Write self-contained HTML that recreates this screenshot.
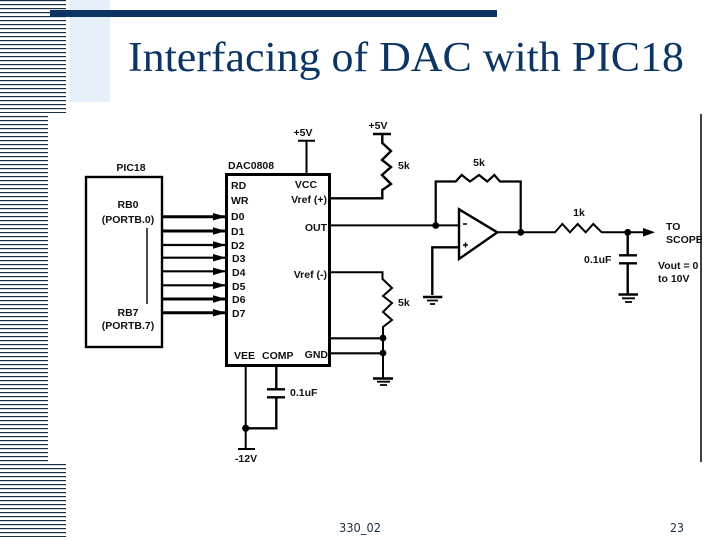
<!DOCTYPE html>
<html><head><meta charset="utf-8"><style>
html,body{margin:0;padding:0;background:#fff}
svg{display:block}
.l{font-family:"Liberation Sans",sans-serif;font-weight:bold;font-size:10.5px;fill:#111}
.m{text-anchor:middle}
.e{text-anchor:end}
</style></head><body>
<svg width="720" height="540" viewBox="0 0 720 540" xmlns="http://www.w3.org/2000/svg">
<defs>
<pattern id="st" width="8" height="4" patternUnits="userSpaceOnUse"><rect width="8" height="1.2" fill="#1c2f3f"/></pattern>
</defs>
<rect width="720" height="540" fill="#fff"/>
<rect x="0" y="0" width="66" height="113" fill="url(#st)"/>
<rect x="0" y="116" width="48" height="348" fill="url(#st)"/>
<rect x="0" y="464" width="66" height="73" fill="url(#st)"/>
<rect x="70" y="0" width="40" height="102" fill="#e6f0fb"/>
<rect x="50" y="10" width="447" height="7" fill="#0d3563"/>
<text x="128" y="71" font-family="'Liberation Serif',serif" font-size="42" fill="#0d3563" textLength="556" lengthAdjust="spacingAndGlyphs">Interfacing of DAC with PIC18</text>

<g fill="none" stroke="#000" stroke-width="2">
<!-- boxes -->
<rect x="86" y="177" width="76" height="170" stroke-width="2.4"/>
<rect x="226.500" y="174.500" width="103" height="191" stroke-width="3"/>
<path d="M147 228V304" stroke-width="1.400"/>
<!-- bus -->
<path d="M162 216.700H226M162 231H226M162 299H226M162 312.700H226" stroke-width="3"/>
<path d="M162 245H226M162 257.700H226M162 271.300H226M162 285.300H226" stroke-width="2.200"/>
<!-- +5V 1 -->
<path d="M298 140.700H315M306.500 141V174"/>
<!-- +5V 2 and resistor -->
<path d="M373 134H391" stroke-width="2.400"/>
<path d="M382.300 134V143L391 151L382 160L391 167L382 175L391 184L382.300 190V198.300H329" stroke-width="2.400"/>
<!-- OUT -->
<path d="M329 225.400H458"/>
<path d="M435.700 225.500V181.500H455.700L461.700 175L470 181.500L479 175L487.300 181.500L494.300 175L500 181.500H520.700V232.300" stroke-width="2.200"/>
<!-- op amp -->
<path d="M459 209.300V259L497.300 232.300Z" stroke-width="2.400"/>
<path d="M458 247.300H432.300V295" stroke-width="2.400"/>
<path d="M423 297H442.300" stroke-width="2.400"/><path d="M427 300.500H438M430 304H435" stroke-width="1.800"/>
<path d="M463 224H467M463 245H468M465.500 242.500V247.500" stroke-width="1.400"/>
<!-- output -->
<path d="M497 232.300H555L562.300 224L570 232.300L577.700 224L585.700 232.300L593.300 224L601.700 232.300H645"/>
<path d="M627.700 232.300V255M619 255.300H637M619 263.300H637M627.700 263.300V294.300" stroke-width="2.400"/>
<path d="M618.500 294.500H638" stroke-width="2.400"/><path d="M622 298.300H635M625 302H632" stroke-width="1.800"/>
<!-- Vref- -->
<path d="M329 272.300H382.500V279L392 288L383 296L392 303L383 312L392 320L383 327V378.300"/>
<path d="M329 338.300H383M329 353.300H383" stroke-width="2.200"/>
<path d="M373 378.500H393" stroke-width="2.400"/><path d="M377 381.700H390M380 385H387" stroke-width="1.800"/>
<!-- VEE/COMP -->
<path d="M245.700 365V449M238 449H255"/>
<path d="M276.300 365V389M267 389.300H285M267 397.300H285M276.300 397.300V428.300H245.700" stroke-width="2.400"/>
<!-- right rule -->
<path d="M701 114V462" stroke-width="1.500"/>
</g>
<g fill="#000">
<path d="M213 213L226 216.700L213 220.500ZM213 227.300L226 231L213 234.800ZM213 241.300L226 245L213 248.800ZM213 254L226 257.700L213 261.500ZM213 267.600L226 271.300L213 275.100ZM213 281.600L226 285.300L213 289.100ZM213 295.300L226 299L213 302.800ZM213 309L226 312.700L213 316.500Z"/>
<path d="M643 228L655 232.300L643 236.600Z"/>
<circle cx="435.700" cy="225.500" r="3.400"/>
<circle cx="520.700" cy="232.300" r="3.400"/>
<circle cx="627.700" cy="232.300" r="3.400"/>
<circle cx="383" cy="338" r="3.400"/>
<circle cx="383" cy="353" r="3.400"/>
<circle cx="245.700" cy="428.300" r="3.600"/>
</g>

<g class="l">
<text class="l m" x="131" y="171">PIC18</text>
<text class="l" x="228" y="169">DAC0808</text>
<text class="l m" x="128" y="208">RB0</text>
<text class="l m" x="128" y="223">(PORTB.0)</text>
<text class="l m" x="128" y="316">RB7</text>
<text class="l m" x="128" y="329">(PORTB.7)</text>
<text class="l" x="231" y="189">RD</text>
<text class="l" x="231" y="204">WR</text>
<text class="l" x="231" y="220">D0</text>
<text class="l" x="231" y="235">D1</text>
<text class="l" x="231" y="249">D2</text>
<text class="l" x="232" y="262">D3</text>
<text class="l" x="232" y="276">D4</text>
<text class="l" x="232" y="290">D5</text>
<text class="l" x="232" y="303">D6</text>
<text class="l" x="232" y="317">D7</text>
<text class="l m" x="306" y="188">VCC</text>
<text class="l e" x="327" y="203">Vref (+)</text>
<text class="l e" x="327" y="231">OUT</text>
<text class="l e" x="327" y="278">Vref (-)</text>
<text class="l" x="234" y="359">VEE</text>
<text class="l" x="262" y="359">COMP</text>
<text class="l e" x="328" y="358">GND</text>
<text class="l m" x="303" y="136">+5V</text>
<text class="l m" x="378" y="129">+5V</text>
<text class="l" x="398" y="169">5k</text>
<text class="l m" x="479" y="166">5k</text>
<text class="l" x="398" y="306">5k</text>
<text class="l m" x="579" y="216">1k</text>
<text class="l" x="584" y="263">0.1uF</text>
<text class="l" x="290" y="396">0.1uF</text>
<text class="l m" x="246" y="462">-12V</text>
<text class="l" x="666" y="230">TO</text>
<text class="l" x="666" y="243">SCOPE</text>
<text class="l" x="658" y="269">Vout = 0</text>
<text class="l" x="658" y="282">to 10V</text>
</g>
<rect x="702" y="225" width="18" height="60" fill="#fff"/>
<text x="339" y="532" font-family="'DejaVu Sans',sans-serif" font-size="12" fill="#1c2f3f" textLength="42" lengthAdjust="spacingAndGlyphs">330_02</text>
<text x="670" y="532" font-family="'DejaVu Sans',sans-serif" font-size="12" fill="#1c2f3f" textLength="14" lengthAdjust="spacingAndGlyphs">23</text>
</svg>
</body></html>
